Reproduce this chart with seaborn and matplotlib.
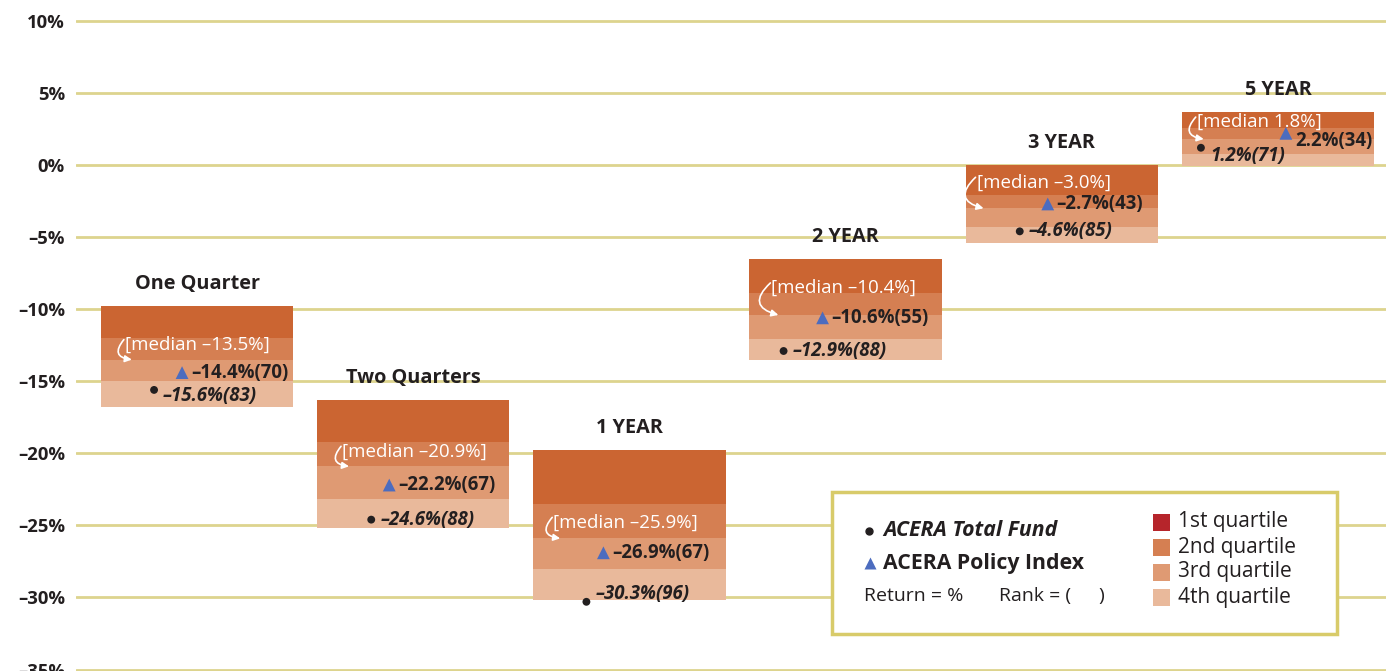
import numpy as np
import matplotlib
matplotlib.use("Agg")
import matplotlib.pyplot as plt
import seaborn as sns
from matplotlib.patches import Rectangle

# ---- data (returns in %) ----
periods = ["One Quarter", "Two Quarters", "1 YEAR", "2 YEAR", "3 YEAR", "5 YEAR"]

# quartile band edges, from top of 1st quartile down to bottom of 4th quartile
q_top = [-9.8, -16.3, -19.8, -6.5, 0.0, 3.7]
q_25 = [-12.0, -19.2, -23.5, -8.9, -2.1, 2.6]
q_med = [-13.5, -20.9, -25.9, -10.4, -3.0, 1.8]
q_75 = [-15.0, -23.2, -28.0, -12.1, -4.3, 0.8]
q_bot = [-16.8, -25.2, -30.2, -13.5, -5.4, -0.1]

fund_ret = [-15.6, -24.6, -30.3, -12.9, -4.6, 1.2]
fund_rank = [83, 88, 96, 88, 85, 71]
policy_ret = [-14.4, -22.2, -26.9, -10.6, -2.7, 2.2]
policy_rank = [70, 67, 67, 55, 43, 34]

y_ticks = [10, 5, 0, -5, -10, -15, -20, -25, -30, -35]
quartile_names = ["1st quartile", "2nd quartile", "3rd quartile", "4th quartile"]

# ---- layout (pixel offsets, not data) ----
tri_dx = [-15, -24, -26, -23, -14, 8]
dot_dx = [-43, -42, -43, -62, -42, -77]
dot_lbl_dy = [-6, 0, 8, 0, 0, -8]
tri_lbl_dy = [0, 0, 0, 0, 0, -8]
med_dx = [24, 25, 20, 22, 11, 15]
med_dy = [15, 15, 16, 27, 26, 17]

band_colors = ["#CB6532", "#D57F52", "#DF9A73", "#E9B99B"]
legend_colors = ["#B6252B", "#D57F52", "#DF9A73", "#E9B99B"]
grid_color = "#DDD48E"
text_color = "#231F20"
tri_color = "#4C6CBF"

sns.set_style("white")
plt.rcParams["font.family"] = ["Open Sans", "DejaVu Sans"]

fig = plt.figure(figsize=(13.86, 6.71), dpi=100)
ax = fig.add_axes([76 / 1386, 0, 1 - 76 / 1386, 1])

PX = 72 / 100  # pixels -> points

# quartile bands
edges = [q_top, q_25, q_med, q_75, q_bot]
for k, col in enumerate(band_colors):
    hi = np.array(edges[k])
    lo = np.array(edges[k + 1])
    sns.barplot(x=periods, y=hi - lo, bottom=lo, order=periods, color=col,
                saturation=1, width=0.89, errorbar=None, linewidth=0,
                edgecolor=col, ax=ax, zorder=2)

xpos = np.arange(len(periods))
xscale = 216.2  # px per category

# markers
sns.scatterplot(x=xpos + np.array(tri_dx) / xscale, y=policy_ret, marker="^",
                s=85, color=tri_color, edgecolor="none", ax=ax, zorder=4)
sns.scatterplot(x=xpos + np.array(dot_dx) / xscale, y=fund_ret, marker="o",
                s=32, color=text_color, edgecolor="none", ax=ax, zorder=4)


def pct(v):
    return f"\u2013{abs(v):.1f}%" if v < 0 else f"{v:.1f}%"


for i, p in enumerate(periods):
    # period title
    ax.annotate(p, (i, q_top[i]), xytext=(0, 22 * PX), textcoords="offset points",
                ha="center", va="center", fontsize=14.3, fontweight="bold",
                color=text_color, zorder=3)
    # policy label
    ax.annotate(f"{pct(policy_ret[i])}({policy_rank[i]})",
                (i + tri_dx[i] / xscale, policy_ret[i]),
                xytext=(9 * PX, tri_lbl_dy[i] * PX), textcoords="offset points",
                ha="left", va="center", fontsize=13.4, fontweight="bold",
                color=text_color, zorder=5)
    # fund label
    ax.annotate(f"{pct(fund_ret[i])}({fund_rank[i]})",
                (i + dot_dx[i] / xscale, fund_ret[i]),
                xytext=(9 * PX, dot_lbl_dy[i] * PX), textcoords="offset points",
                ha="left", va="center", fontsize=13.4, fontweight="bold",
                fontstyle="italic", color=text_color, zorder=5)
    # median text + curved arrow
    left = i - 0.445
    ax.annotate(f"[median {pct(q_med[i])}]", (left, q_med[i]),
                xytext=(med_dx[i] * PX, med_dy[i] * PX), textcoords="offset points",
                ha="left", va="center", fontsize=13.5, color="white", zorder=5)
    ax.annotate("", xy=(left + (med_dx[i] + 7) / xscale, q_med[i]),
                xycoords="data",
                xytext=(left + (med_dx[i] - 1) / xscale, q_med[i] + (med_dy[i] + 5) / 14.41),
                textcoords="data",
                arrowprops=dict(arrowstyle="-|>,head_length=0.4,head_width=0.2",
                                color="white", lw=1.2,
                                connectionstyle="arc3,rad=0.9",
                                shrinkA=0, shrinkB=0),
                zorder=5)

# axes styling
ax.set_xlim(-0.56, 5.50)
ax.set_ylim(-35.1, 11.45)
ax.set_xticks([])
ax.set_xlabel("")
ax.set_ylabel("")
ax.set_yticks(y_ticks)
ax.set_yticklabels([f"{t}%" if t >= 0 else f"\u2013{abs(t)}%" for t in y_ticks],
                   fontsize=13.3, fontweight="bold", color=text_color)
ax.tick_params(axis="y", length=0, pad=8)
ax.yaxis.grid(True, color=grid_color, lw=2)
ax.set_axisbelow(True)
for s in ax.spines.values():
    s.set_visible(False)


# legend box (figure pixel coordinates from top-left)
def fx(px):
    return px / 1386


def fy(py):
    return 1 - py / 671


ax.add_patch(Rectangle((fx(832), fy(634)), fx(1337) - fx(832), fy(492) - fy(634),
                       transform=fig.transFigure, facecolor="white",
                       edgecolor="#D8CB6A", lw=2.5, clip_on=False, zorder=6))
ax.plot([fx(869)], [fy(531)], marker="o", ms=5, color=text_color,
        transform=fig.transFigure, clip_on=False, zorder=7)
ax.plot([fx(870)], [fy(563)], marker="^", ms=9, color=tri_color, mec="none",
        transform=fig.transFigure, clip_on=False, zorder=7)
fig.text(fx(883), fy(531), "ACERA Total Fund", ha="left", va="center", fontsize=15.3,
         fontweight="bold", fontstyle="italic", color=text_color, zorder=7)
fig.text(fx(883), fy(563), "ACERA Policy Index", ha="left", va="center", fontsize=15.3,
         fontweight="bold", color=text_color, zorder=7)
fig.text(fx(864), fy(596), "Return = %", ha="left", va="center", fontsize=14,
         color=text_color, zorder=7)
fig.text(fx(999), fy(596), "Rank = (", ha="left", va="center", fontsize=14,
         color=text_color, zorder=7)
fig.text(fx(1098), fy(596), ")", ha="left", va="center", fontsize=14,
         color=text_color, zorder=7)
for k, (name, col) in enumerate(zip(quartile_names, legend_colors)):
    yc = 522 + 25 * k
    fig.patches.append(Rectangle((fx(1153), fy(yc + 9)), fx(17), 17 / 671,
                                 transform=fig.transFigure, facecolor=col,
                                 edgecolor="none", zorder=8))
    fig.text(fx(1178), fy(yc), name, ha="left", va="center", fontsize=15,
             color=text_color, zorder=8)

fig.savefig("out.png", dpi=100, facecolor="white")
